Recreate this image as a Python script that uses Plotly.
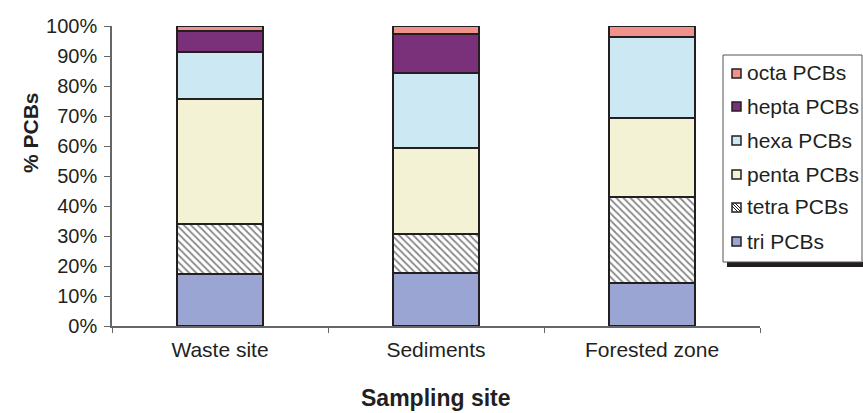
import plotly.graph_objects as go

sites = ["Waste site", "Sediments", "Forested zone"]
series_names = ["tri PCBs", "tetra PCBs", "penta PCBs", "hexa PCBs", "hepta PCBs", "octa PCBs"]
tri = [17.5, 17.8, 14.3]
tetra = [16.4, 12.9, 28.8]
penta = [41.9, 28.5, 26.1]
hexa = [15.5, 25.2, 27.0]
hepta = [7.1, 12.8, 0.0]
octa = [1.6, 2.8, 3.8]
series_values = [tri, tetra, penta, hexa, hepta, octa]
colors = ["#9aa5d3", "#ffffff", "#f3f2d4", "#cce8f3", "#7b3179", "#ef928c"]
y_ticks = [0, 10, 20, 30, 40, 50, 60, 70, 80, 90, 100]

W, H = 863, 413
L, R, T, B = 112, 103, 26, 87
PW, PH = W - L - R, H - T - B

def px(x):
    return (x - L) / PW

def py(y):
    return (H - B - y) / PH

FONT = "Liberation Sans, Arial, sans-serif"
fig = go.Figure()
for name, vals, col in zip(series_names, series_values, colors):
    pat = dict(shape="\\", fgcolor="#111111", bgcolor="#ffffff", size=5, solidity=0.35) if name.startswith("tetra") else None
    fig.add_trace(go.Bar(
        x=sites, y=vals, name=name, width=0.4,
        marker=dict(color=col, line=dict(color="#231f20", width=2), pattern=pat),
        showlegend=False,
    ))

fig.update_layout(
    width=W, height=H, barmode="stack",
    margin=dict(l=L, r=R, t=T, b=B),
    paper_bgcolor="white", plot_bgcolor="white",
    font=dict(family=FONT, size=20, color="#231f20"),
    xaxis=dict(showline=True, linecolor="#666666", linewidth=1.5, ticks="outside",
               tickson="boundaries", ticklen=5, tickcolor="#666666",
               tickfont=dict(size=21), showgrid=False, ticklabelstandoff=4),
    yaxis=dict(range=[0, 100], tickvals=y_ticks, ticktext=[f"{v}%" for v in y_ticks],
               showline=True, linecolor="#666666", linewidth=1.5, ticks="outside",
               ticklen=6, tickcolor="#666666", tickfont=dict(size=20), showgrid=False,
               zeroline=False, ticklabelstandoff=3),
)

ann = [
    dict(text="<b>% PCBs</b>", x=px(30), y=py(133), xref="paper", yref="paper",
         textangle=-90, showarrow=False, font=dict(size=21), xanchor="center", yanchor="middle"),
    dict(text="<b>Sampling site</b>", x=0.5, y=py(398), xref="paper", yref="paper",
         showarrow=False, font=dict(size=23), xanchor="center", yanchor="middle"),
]
shapes = []
# legend box and shadow
shapes.append(dict(type="rect", xref="paper", yref="paper", x0=px(727), x1=px(866), y0=py(267), y1=py(262),
                   fillcolor="#231f20", line=dict(width=0), layer="above"))
shapes.append(dict(type="rect", xref="paper", yref="paper", x0=px(723), x1=px(862), y0=py(262), y1=py(55),
                   fillcolor="white", line=dict(color="#555555", width=1), layer="above"))
leg_y = [241, 207, 174, 140, 106, 73]
for name, col, yc in zip(series_names, colors, leg_y):
    shapes.append(dict(type="rect", xref="paper", yref="paper", x0=px(732), x1=px(741), y0=py(yc + 5), y1=py(yc - 4),
                       fillcolor=col, line=dict(color="#231f20", width=1.5), layer="above"))
    if name.startswith("tetra"):
        for d in (-3, 0, 3):
            shapes.append(dict(type="line", xref="paper", yref="paper",
                               x0=px(max(732, 732 + d)), y0=py(yc - 4 + max(0, -d)),
                               x1=px(min(741, 741 + d)), y1=py(yc + 5 - max(0, d)),
                               line=dict(color="#231f20", width=1), layer="above"))
    ann.append(dict(text=name, x=px(745), y=py(yc), xref="paper", yref="paper", showarrow=False,
                    xanchor="left", yanchor="middle", font=dict(size=21)))

fig.update_layout(annotations=ann, shapes=shapes)
fig.write_html("out.html", post_script="document.body.style.margin='0';",
               config={"displayModeBar": False})
